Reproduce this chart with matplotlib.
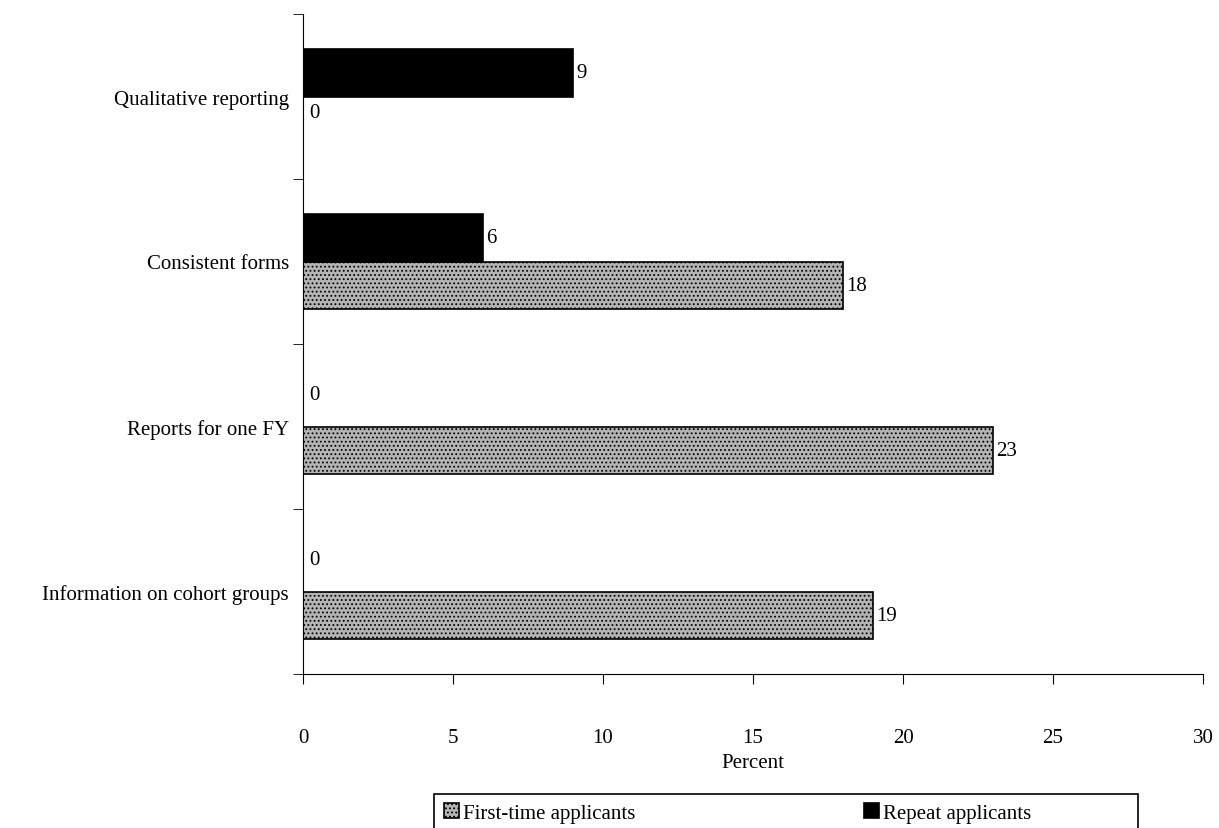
import matplotlib.pyplot as plt
import numpy as np
from matplotlib.patches import Rectangle

categories = ['Information on cohort groups', 'Reports for one FY',
              'Consistent forms', 'Qualitative reporting']
first_time = [19, 23, 18, 0]
repeat = [0, 0, 6, 9]
series_names = ['First-time applicants', 'Repeat applicants']

plt.rcParams['font.family'] = ['Liberation Serif', 'DejaVu Serif']
plt.rcParams['hatch.color'] = '#6e6e6e'
plt.rcParams['hatch.linewidth'] = 0.8

W, H = 1219, 829
fig = plt.figure(figsize=(W/100, H/100), dpi=100)
ax = fig.add_axes([303/W, 1-675/H, 900/W, 660/H])

y = np.arange(len(categories))
h = 0.29
b1 = ax.barh(y - h/2, first_time, height=h, color='#b4b4b4', edgecolor='black',
             linewidth=1.2, hatch='....', label=series_names[0])
b2 = ax.barh(y + h/2, repeat, height=h, color='black', edgecolor='black',
             linewidth=1.2, label=series_names[1])

fs = 15
for bars, vals in [(b1, first_time), (b2, repeat)]:
    for bar, v in zip(bars, vals):
        cy = bar.get_y() + bar.get_height()/2
        if v == 0:
            ax.text(0.2, cy + 0.05, str(v), va='center', ha='left', fontsize=fs)
        else:
            ax.text(v + 0.12, cy, str(v), va='center', ha='left', fontsize=fs)

ax.set_xlim(0, 30)
ax.set_ylim(-0.5, 3.5)
ax.set_xticks(range(0, 31, 5))
ax.tick_params(axis='x', direction='out', length=7, pad=32, labelsize=fs)
ax.set_yticks(y)
ax.set_yticklabels(categories, fontsize=fs)
ax.tick_params(axis='y', which='major', length=0, pad=10)
ax.set_yticks(np.arange(-0.5, 4, 1), minor=True)
ax.tick_params(axis='y', which='minor', direction='out', length=7)
for s in ['top', 'right']:
    ax.spines[s].set_visible(False)
ax.set_xlabel('Percent', fontsize=fs, labelpad=4)

leg = fig.legend(handles=[b1, b2], loc='center left', ncol=2,
                 bbox_to_anchor=(444/W, 1-814/H),
                 fontsize=fs, frameon=False, handlelength=0.7,
                 handleheight=0.7, handletextpad=0.2, borderaxespad=0,
                 borderpad=0, columnspacing=11)
fig.patches.append(Rectangle((434/W, -0.05), 704/W, 0.05 + 1-795/H,
                             transform=fig.transFigure, fill=False,
                             edgecolor='black', linewidth=1.2))

fig.savefig('out.png', dpi=100)
